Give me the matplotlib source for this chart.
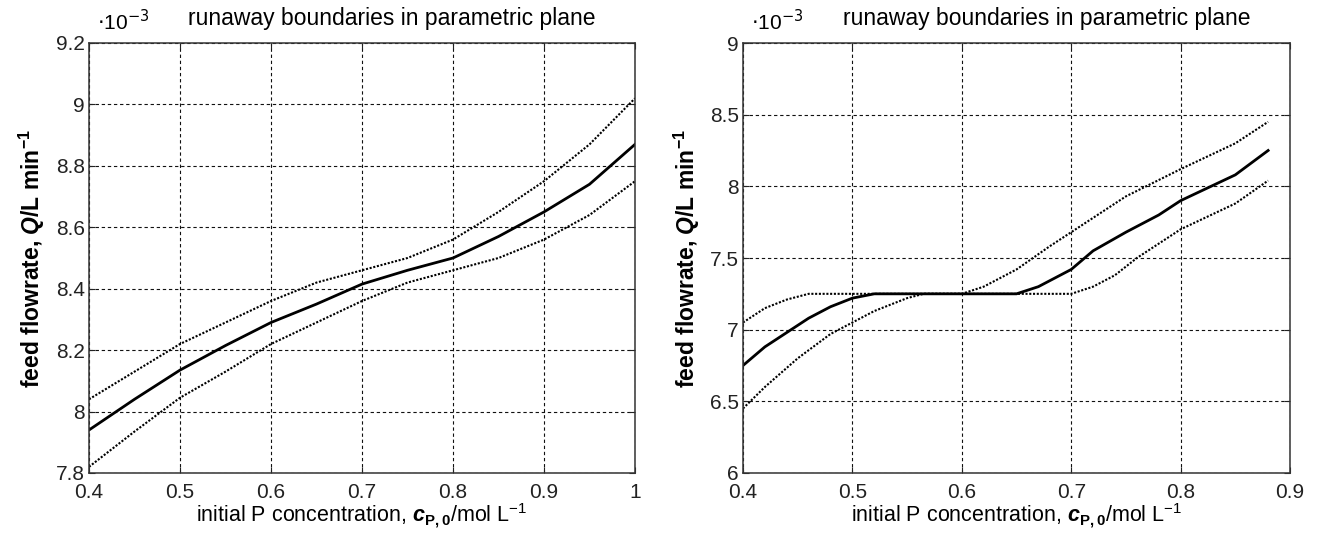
import matplotlib
matplotlib.use("Agg")
import matplotlib.pyplot as plt

plt.rcParams['font.family'] = ['Liberation Sans', 'DejaVu Sans']
plt.rcParams['mathtext.fontset'] = 'custom'
plt.rcParams['mathtext.rm'] = 'Liberation Sans'
plt.rcParams['mathtext.it'] = 'Liberation Sans:bold:italic'
plt.rcParams['mathtext.bf'] = 'Liberation Sans:bold'

# ---------------------------------------------------------
# DATA (feed flowrate in units of 1e-3 L/min)
# ---------------------------------------------------------
left_x = [0.40, 0.45, 0.50, 0.55, 0.60, 0.65, 0.70, 0.75, 0.80, 0.85, 0.90, 0.95, 1.00]
left_mid = [7.94, 8.04, 8.135, 8.215, 8.29, 8.35, 8.415, 8.46, 8.50, 8.57, 8.65, 8.74, 8.87]
left_up = [8.04, 8.13, 8.22, 8.29, 8.36, 8.42, 8.46, 8.50, 8.56, 8.65, 8.75, 8.87, 9.02]
left_lo = [7.82, 7.935, 8.045, 8.13, 8.22, 8.29, 8.36, 8.42, 8.46, 8.50, 8.56, 8.64, 8.75]

right_mid_x = [0.40, 0.42, 0.44, 0.46, 0.48, 0.50, 0.52, 0.65, 0.67, 0.70, 0.72, 0.75, 0.78, 0.80, 0.85, 0.88]
right_mid = [6.75, 6.88, 6.98, 7.08, 7.16, 7.22, 7.25, 7.25, 7.30, 7.42, 7.55, 7.68, 7.80, 7.90, 8.08, 8.25]
right_up_x = [0.40, 0.42, 0.44, 0.46, 0.48, 0.60, 0.62, 0.65, 0.68, 0.70, 0.75, 0.80, 0.85, 0.88]
right_up = [7.05, 7.15, 7.21, 7.25, 7.25, 7.25, 7.30, 7.42, 7.58, 7.68, 7.93, 8.12, 8.30, 8.45]
right_lo_x = [0.40, 0.42, 0.45, 0.48, 0.50, 0.52, 0.55, 0.565, 0.70, 0.72, 0.74, 0.76, 0.80, 0.85, 0.88]
right_lo = [6.45, 6.60, 6.80, 6.97, 7.05, 7.13, 7.22, 7.25, 7.25, 7.30, 7.38, 7.50, 7.70, 7.88, 8.04]

left_xticks = [0.4, 0.5, 0.6, 0.7, 0.8, 0.9, 1.0]
left_xlabels = ["0.4", "0.5", "0.6", "0.7", "0.8", "0.9", "1"]
left_yticks = [7.8, 8.0, 8.2, 8.4, 8.6, 8.8, 9.0, 9.2]
left_ylabels = ["7.8", "8", "8.2", "8.4", "8.6", "8.8", "9", "9.2"]

right_xticks = [0.4, 0.5, 0.6, 0.7, 0.8, 0.9]
right_xlabels = ["0.4", "0.5", "0.6", "0.7", "0.8", "0.9"]
right_yticks = [6.0, 6.5, 7.0, 7.5, 8.0, 8.5, 9.0]
right_ylabels = ["6", "6.5", "7", "7.5", "8", "8.5", "9"]

TITLE = "runaway boundaries in parametric plane"
XLABEL = r"initial P concentration, $c_{\mathbf{P,0}}$/mol L$^{-1}$"
YLABEL = r"feed flowrate, $Q$/L min$^{\mathbf{-1}}$"

W, H = 1318, 533
fig = plt.figure(figsize=(W / 100, H / 100), dpi=100)


def make_axes(px_left, px_right, px_top, px_bottom):
    return fig.add_axes([px_left / W, 1 - px_bottom / H,
                         (px_right - px_left) / W, (px_bottom - px_top) / H])


def style(ax, xticks, xlabels, yticks, ylabels):
    ax.set_xticks(xticks)
    ax.set_xticklabels(xlabels)
    ax.set_yticks(yticks)
    ax.set_yticklabels(ylabels)
    ax.set_xlim(xticks[0], xticks[-1])
    ax.set_ylim(yticks[0], yticks[-1])
    ax.tick_params(direction='in', top=True, right=True, labelsize=15,
                   length=4, width=0.8, colors='#222222')
    ax.tick_params(axis='x', pad=7)
    ax.tick_params(axis='y', pad=3)
    ax.grid(True, color='#111111', linestyle=(0, (3, 2.5)), linewidth=0.8)
    for s in ax.spines.values():
        s.set_linewidth(1.1)
        s.set_color('#333333')
    ax.set_xlabel(XLABEL, fontsize=15.5, labelpad=0)
    ax.set_ylabel(YLABEL, fontsize=16.5, fontweight='bold', labelpad=6)
    ax.text(0.555, 1.03, TITLE, transform=ax.transAxes, ha='center',
            va='bottom', fontsize=16.5)
    ax.text(0.015, 1.02, r"$\cdot$10$^{-3}$", transform=ax.transAxes,
            ha='left', va='bottom', fontsize=15,
            math_fontfamily='dejavusans')


ax1 = make_axes(89, 635, 43, 473)
ax1.plot(left_x, left_mid, color='black', linewidth=2.0)
ax1.plot(left_x, left_up, color='black', linewidth=1.5, linestyle=(0, (1, 0.8)))
ax1.plot(left_x, left_lo, color='black', linewidth=1.5, linestyle=(0, (1, 0.8)))
style(ax1, left_xticks, left_xlabels, left_yticks, left_ylabels)

ax2 = make_axes(743, 1290, 43, 473)
ax2.plot(right_mid_x, right_mid, color='black', linewidth=2.0)
ax2.plot(right_up_x, right_up, color='black', linewidth=1.5, linestyle=(0, (1, 0.8)))
ax2.plot(right_lo_x, right_lo, color='black', linewidth=1.5, linestyle=(0, (1, 0.8)))
style(ax2, right_xticks, right_xlabels, right_yticks, right_ylabels)

fig.savefig("out.png", dpi=100)
